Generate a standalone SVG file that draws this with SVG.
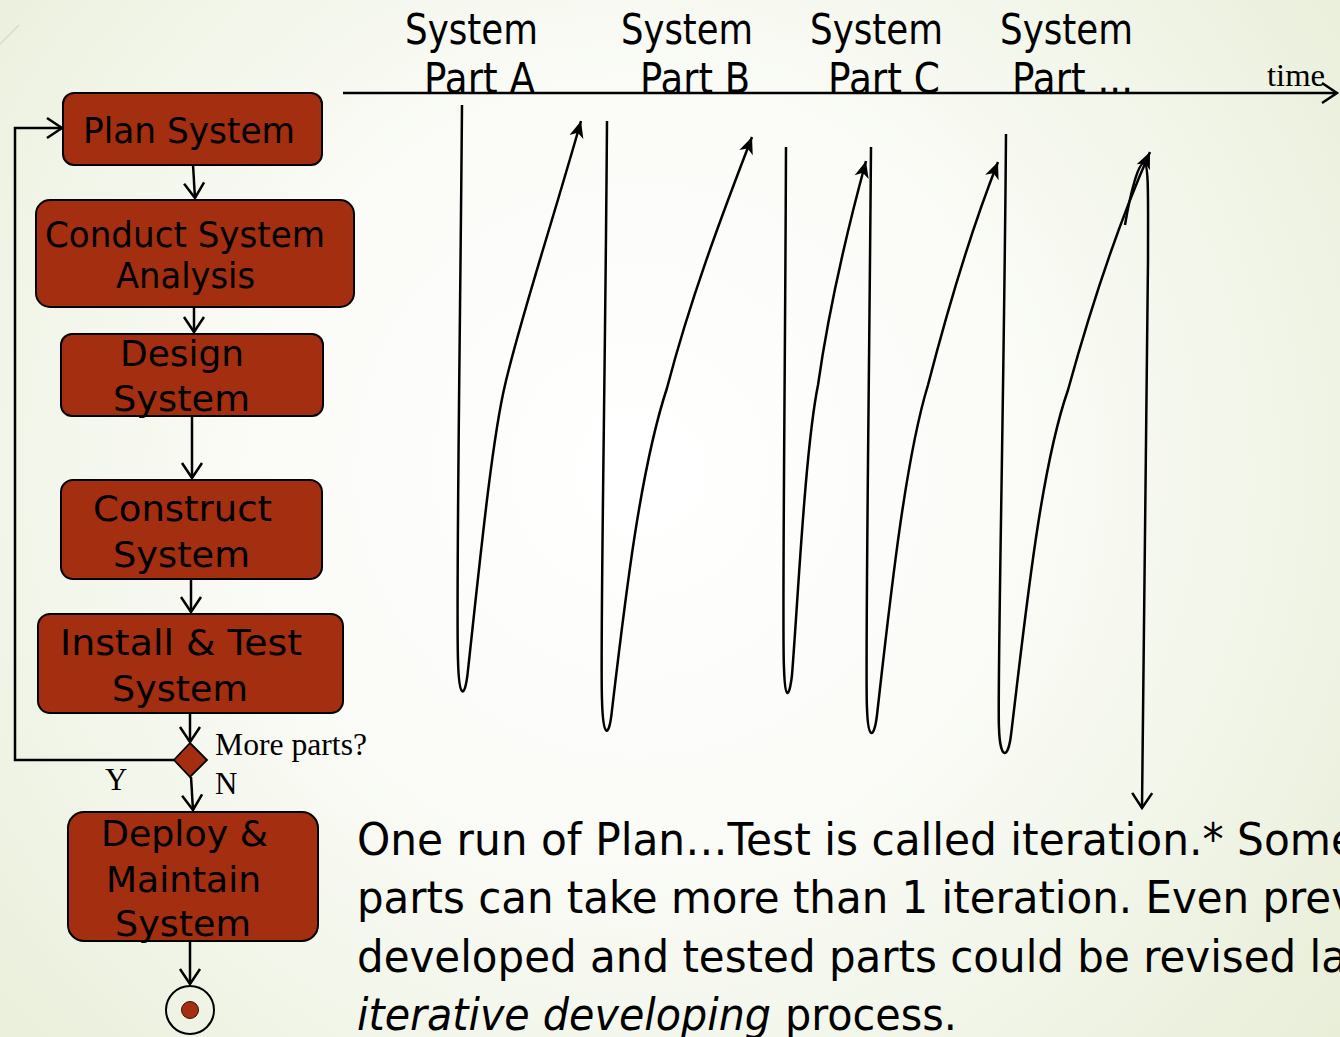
<svg xmlns="http://www.w3.org/2000/svg" width="1340" height="1037" viewBox="0 0 1340 1037">
  <defs>
    <radialGradient id="bg" cx="640" cy="470" r="900" gradientUnits="userSpaceOnUse">
      <stop offset="0" stop-color="#ffffff"/>
      <stop offset="0.4" stop-color="#fbfcf8"/>
      <stop offset="1" stop-color="#e8eed8"/>
    </radialGradient>
    <!-- open V head used by flow connectors -->
    <marker id="open" markerUnits="userSpaceOnUse" markerWidth="24" markerHeight="24" viewBox="-18 -12 22 24" refX="0" refY="0" orient="auto">
      <path d="M-15,-10 L0,0 L-15,10" fill="none" stroke="#000" stroke-width="2.5"/>
    </marker>
    <!-- filled notched head for the iteration curves -->
    <marker id="solid" markerUnits="userSpaceOnUse" markerWidth="20" markerHeight="20" viewBox="-16 -8 18 16" refX="0" refY="0" orient="auto">
      <path d="M0,0 L-15,-6.5 L-11,0 L-15,6.5 Z" fill="#000"/>
    </marker>
    <style>
      .box { fill: #a32e10; stroke: #000; stroke-width: 2; }
      .lbl { font-family: "DejaVu Sans", Verdana, sans-serif; font-size: 36px; fill: #000; }
      .hdr { font-family: "DejaVu Sans", Verdana, sans-serif; font-size: 42px; fill: #000; }
      .body { font-family: "DejaVu Sans", Verdana, sans-serif; font-size: 44px; fill: #000; }
      .serif { font-family: "Liberation Serif", "Times New Roman", serif; font-size: 31px; fill: #000; }
      .flow { fill: none; stroke: #000; stroke-width: 2.5; marker-end: url(#open); }
      .iter { fill: none; stroke: #000; stroke-width: 2.5; marker-end: url(#solid); }
    </style>
  </defs>

  <!-- slide background -->
  <rect x="0" y="0" width="1340" height="1037" fill="url(#bg)"/>
  <line x1="0" y1="44" x2="19" y2="25" stroke="#d4dac6" stroke-width="1.2"/>

  <!-- time axis and part headings -->
  <g id="timeline">
    <path d="M343,93 L1337,93" fill="none" stroke="#000" stroke-width="2.5" marker-end="url(#open)"/>
    <text class="serif" x="1267" y="86" font-size="32" textLength="58" lengthAdjust="spacingAndGlyphs">time</text>
    <text class="hdr" x="405" y="44" textLength="133" lengthAdjust="spacingAndGlyphs">System</text>
    <text class="hdr" x="424" y="93" textLength="111" lengthAdjust="spacingAndGlyphs">Part A</text>
    <text class="hdr" x="621" y="44" textLength="132" lengthAdjust="spacingAndGlyphs">System</text>
    <text class="hdr" x="640" y="93" textLength="110" lengthAdjust="spacingAndGlyphs">Part B</text>
    <text class="hdr" x="810" y="44" textLength="133" lengthAdjust="spacingAndGlyphs">System</text>
    <text class="hdr" x="828" y="93" textLength="112" lengthAdjust="spacingAndGlyphs">Part C</text>
    <text class="hdr" x="1000" y="44" textLength="133" lengthAdjust="spacingAndGlyphs">System</text>
    <text class="hdr" x="1012" y="93" textLength="121" lengthAdjust="spacingAndGlyphs">Part ...</text>
  </g>

  <!-- activity nodes -->
  <g id="plan">
    <rect class="box" x="63" y="93" width="259" height="72" rx="11"/>
    <text class="lbl" x="83" y="143" textLength="212" lengthAdjust="spacingAndGlyphs">Plan System</text>
  </g>
  <g id="analysis">
    <rect class="box" x="36" y="200" width="318" height="107" rx="14"/>
    <text class="lbl" x="45" y="247" textLength="280" lengthAdjust="spacingAndGlyphs">Conduct System</text>
    <text class="lbl" x="116" y="288" textLength="139" lengthAdjust="spacingAndGlyphs">Analysis</text>
  </g>
  <g id="design">
    <rect class="box" x="61" y="334" width="262" height="82" rx="11"/>
    <text class="lbl" x="120" y="366" textLength="124" lengthAdjust="spacingAndGlyphs">Design</text>
    <text class="lbl" x="113" y="411" textLength="137" lengthAdjust="spacingAndGlyphs">System</text>
  </g>
  <g id="construct">
    <rect class="box" x="61" y="480" width="261" height="99" rx="12"/>
    <text class="lbl" x="93" y="521" textLength="179" lengthAdjust="spacingAndGlyphs">Construct</text>
    <text class="lbl" x="113" y="567" textLength="137" lengthAdjust="spacingAndGlyphs">System</text>
  </g>
  <g id="install">
    <rect class="box" x="38" y="614" width="305" height="99" rx="12"/>
    <text class="lbl" x="60" y="655" textLength="242" lengthAdjust="spacingAndGlyphs">Install &amp; Test</text>
    <text class="lbl" x="112" y="701" textLength="136" lengthAdjust="spacingAndGlyphs">System</text>
  </g>
  <g id="decision">
    <polygon points="190,743 207,760 190,777 174,760" fill="#a32e10" stroke="#000" stroke-width="1.8"/>
    <text class="serif" x="215" y="755" textLength="152" lengthAdjust="spacingAndGlyphs">More parts?</text>
    <text class="serif" x="105" y="790">Y</text>
    <text class="serif" x="215" y="794">N</text>
  </g>
  <g id="deploy">
    <rect class="box" x="68" y="812" width="250" height="129" rx="16"/>
    <text class="lbl" x="101" y="846" textLength="167" lengthAdjust="spacingAndGlyphs">Deploy &amp;</text>
    <text class="lbl" x="106" y="892" textLength="155" lengthAdjust="spacingAndGlyphs">Maintain</text>
    <text class="lbl" x="115" y="936" textLength="136" lengthAdjust="spacingAndGlyphs">System</text>
  </g>
  <g id="end">
    <circle cx="190" cy="1010" r="24" fill="none" stroke="#000" stroke-width="2"/>
    <circle cx="190" cy="1010" r="8.5" fill="#a32e10" stroke="#3a1006" stroke-width="1"/>
  </g>

  <!-- flow connectors -->
  <g id="connectors">
    <path class="flow" d="M193,165 L195,198"/>
    <path class="flow" d="M194,307 L194,332"/>
    <path class="flow" d="M192,416 L192,478"/>
    <path class="flow" d="M191,579 L191,612"/>
    <path class="flow" d="M190,713 L190,742"/>
    <path class="flow" d="M191,777 L193,810"/>
    <path class="flow" d="M190,941 L190,984"/>
    <path class="flow" d="M174,760 L15,760 L15,128 L62,128"/>
  </g>

  <!-- iteration curves, one loop per system part -->
  <g id="iterations">
    <path class="iter" d="M462,105 C460,350 456,600 458,660 C459,700 465,700 468,670 C480,560 492,440 505,385 C520,320 550,230 581,121"/>
    <path class="iter" d="M607,121 C605,400 600,650 602,700 C603,738 609,740 612,710 C625,600 640,470 667,388 C690,300 720,220 752,137"/>
    <path class="iter" d="M786,147 C785,400 782,640 784,668 C785,700 789,700 792,675 C798,600 805,450 818,385 C830,300 850,220 866,161"/>
    <path class="iter" d="M871,147 C869,400 865,680 867,708 C868,740 874,740 877,715 C890,600 905,460 928,385 C950,300 975,220 998,162"/>
    <path class="iter" d="M1006,134 C1004,400 997,700 999,728 C1000,760 1008,760 1011,735 C1025,620 1040,470 1068,390 C1090,310 1120,220 1150,152"/>
    <path class="flow" d="M1125,225 C1130,195 1138,163 1144,163 C1149,163 1148,200 1148,260 L1142,808"/>
  </g>

  <!-- explanatory note -->
  <g id="note">
    <text class="body" x="357" y="855" textLength="1000" lengthAdjust="spacingAndGlyphs">One run of Plan…Test is called iteration.* Some</text>
    <text class="body" x="357" y="913" textLength="999" lengthAdjust="spacingAndGlyphs">parts can take more than 1 iteration. Even prev</text>
    <text class="body" x="357" y="972" textLength="990" lengthAdjust="spacingAndGlyphs">developed and tested parts could be revised la</text>
    <text class="body" x="357" y="1030" font-style="italic" textLength="414" lengthAdjust="spacingAndGlyphs">iterative developing</text>
    <text class="body" x="785" y="1030" textLength="172" lengthAdjust="spacingAndGlyphs">process.</text>
  </g>
</svg>
